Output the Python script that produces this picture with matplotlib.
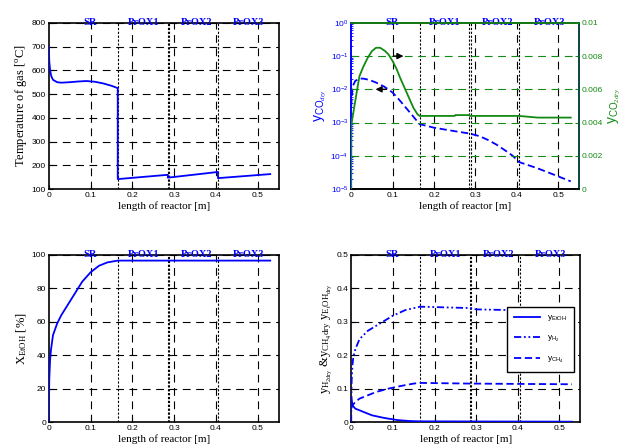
import matplotlib
matplotlib.use("Agg")
import matplotlib.pyplot as plt
import matplotlib.transforms as mtransforms

# --- data ---
zones = ["SR", "PrOX1", "PrOX2", "PrOX3"]
zone_pos = [0.098, 0.226, 0.354, 0.478]
bounds = [0.165, 0.285, 0.288, 0.405]

T_x = [0, 0.001, 0.003, 0.006, 0.01, 0.02, 0.03, 0.05, 0.07, 0.09, 0.11, 0.13, 0.15, 0.165,
       0.165, 0.285, 0.285, 0.405, 0.405, 0.53]
T_y = [700, 640, 600, 575, 560, 550, 548, 550, 553, 555, 552, 545, 535, 525,
       142, 160, 148, 172, 146, 163]

co_x = [0, 0.003, 0.01, 0.02, 0.03, 0.045, 0.06, 0.08, 0.1, 0.115, 0.13, 0.145, 0.165,
        0.2, 0.25, 0.285, 0.31, 0.33, 0.35, 0.37, 0.39, 0.405, 0.45, 0.5, 0.53]
co_y = [3e-3, 1.2e-2, 1.8e-2, 2.1e-2, 2.1e-2, 1.9e-2, 1.6e-2, 1.2e-2, 8e-3, 5e-3, 3e-3, 1.8e-3, 9e-4,
        7e-4, 5.5e-4, 4.7e-4, 3.9e-4, 3.0e-4, 2.2e-4, 1.5e-4, 1.0e-4, 6.5e-5, 4.2e-5, 2.4e-5, 1.7e-5]

co2_x = [0, 0.0005, 0.002, 0.0065, 0.0145, 0.02, 0.03, 0.04, 0.05, 0.06, 0.07, 0.082, 0.09, 0.1,
         0.11, 0.118, 0.134, 0.15, 0.16, 0.165, 0.2, 0.25, 0.251, 0.285, 0.286, 0.35, 0.405, 0.45, 0.53]
co2_y = [0, 0.0039, 0.0041, 0.0048, 0.006, 0.0068, 0.0074, 0.0079, 0.0083, 0.0085, 0.0085, 0.0083,
         0.0081, 0.0077, 0.0072, 0.0067, 0.0058, 0.0049, 0.0045, 0.0044, 0.0044, 0.0044, 0.00445,
         0.00445, 0.0044, 0.0044, 0.0044, 0.0043, 0.0043]

X_x = [0, 0.001, 0.003, 0.005, 0.01, 0.02, 0.03, 0.04, 0.05, 0.06, 0.07, 0.08, 0.1, 0.12, 0.14, 0.165, 0.53]
X_y = [0, 25, 37, 43, 52, 59, 64, 68, 72, 76, 80, 84, 89.6, 93.5, 95.5, 96.6, 96.6]

h2_x = [0, 0.001, 0.003, 0.005, 0.01, 0.02, 0.04, 0.06, 0.08, 0.1, 0.13, 0.165, 0.285, 0.3, 0.38, 0.405, 0.53]
h2_y = [0, 0.12, 0.17, 0.193, 0.218, 0.248, 0.273, 0.288, 0.303, 0.318, 0.335, 0.345, 0.341, 0.337, 0.335, 0.33, 0.328]

ch4_x = [0, 0.003, 0.01, 0.02, 0.04, 0.06, 0.09, 0.12, 0.15, 0.165, 0.285, 0.4, 0.53]
ch4_y = [0.04, 0.05, 0.06, 0.07, 0.08, 0.09, 0.1, 0.108, 0.115, 0.117, 0.115, 0.114, 0.113]

et_x = [0, 0.003, 0.01, 0.03, 0.05, 0.08, 0.11, 0.14, 0.165, 0.53]
et_y = [0.075, 0.05, 0.04, 0.03, 0.02, 0.012, 0.006, 0.003, 0.002, 0.001]

BLUE = "#0000ff"
GREEN = "#138a13"
serif = "Liberation Serif"
tick_fs = 6

plt.rcParams["font.family"] = "Liberation Sans"
plt.rcParams["mathtext.fontset"] = "custom"
plt.rcParams["mathtext.rm"] = "Liberation Serif"
plt.rcParams["mathtext.it"] = "Liberation Serif:italic"
plt.rcParams["mathtext.sf"] = "Liberation Sans"

fig = plt.figure(figsize=(6.26, 4.48), dpi=100)
ax_T = fig.add_axes([0.078, 0.578, 0.367, 0.371])
ax_co = fig.add_axes([0.561, 0.578, 0.364, 0.371])
ax_X = fig.add_axes([0.078, 0.058, 0.367, 0.373])
ax_y = fig.add_axes([0.561, 0.058, 0.366, 0.373])

dash = (0, (7, 5))


def decorate(ax, hgrid=True):
    ax.set_xlim(0, 0.55)
    ax.set_xticks([0, 0.1, 0.2, 0.3, 0.4, 0.5])
    ax.set_xticklabels(["0", "0.1", "0.2", "0.3", "0.4", "0.5"])
    ax.tick_params(labelsize=tick_fs, direction="in", length=3, pad=2)
    for xv in [0.1, 0.2, 0.3, 0.4, 0.5]:
        ax.axvline(xv, color="k", lw=0.8, ls=dash, zorder=1)
    if hgrid:
        ax.yaxis.grid(True, color="k", lw=0.8, ls=dash)
    for b in bounds:
        ax.axvline(b, color="k", lw=0.8, ls=(0, (2, 1.5)), zorder=1)
    tr = mtransforms.blended_transform_factory(ax.transData, ax.transAxes)
    for name, p in zip(zones, zone_pos):
        ax.text(p, 0.975, name, transform=tr, ha="center", va="bottom", color=BLUE,
                fontsize=7.5, fontweight="bold", family=serif, zorder=5)
    ax.set_xlabel("length of reactor [m]", family=serif, fontsize=8, labelpad=2)
    for s in ax.spines.values():
        s.set_linewidth(1.2)


# top left: gas temperature
ax_T.plot(T_x, T_y, color=BLUE, lw=1.3, zorder=3)
ax_T.set_ylim(100, 800)
ax_T.set_yticks(range(100, 801, 100))
decorate(ax_T)
ax_T.set_ylabel(r"Temperature of gas [$^{\rm o}$C]", family=serif, fontsize=9, labelpad=2)

# top right: CO (log, left) and CO2 (right)
ax_co.plot(co_x, co_y, color=BLUE, lw=1.3, ls=(0, (4, 2)), zorder=3)
ax_co.set_yscale("log")
ax_co.set_ylim(1e-5, 1)
decorate(ax_co, hgrid=False)
ax_co.tick_params(axis="y", which="both", colors=BLUE, labelcolor=BLUE)
ax_co.tick_params(axis="y", which="minor", direction="in", length=1.5)
ax_co.spines["left"].set_color(BLUE)
ax_co.set_ylabel(r"y$_{\mathsf{CO}_{dry}}$", color=BLUE, fontsize=10, labelpad=1)

ax_c2 = ax_co.twinx()
ax_c2.set_position(ax_co.get_position())
ax_c2.plot(co2_x, co2_y, color=GREEN, lw=1.3, zorder=3)
ax_c2.set_ylim(0, 0.01)
ax_c2.set_xlim(0, 0.55)
ax_c2.set_yticks([0, 0.002, 0.004, 0.006, 0.008, 0.01])
ax_c2.set_yticklabels(["0", "0.002", "0.004", "0.006", "0.008", "0.01"])
ax_c2.tick_params(axis="y", colors=GREEN, labelcolor=GREEN, labelsize=tick_fs,
                  direction="in", length=3, pad=2)
for yv in [0.002, 0.004, 0.006, 0.008]:
    ax_c2.axhline(yv, color=GREEN, lw=0.8, ls=dash, zorder=1)
ax_c2.spines["right"].set_color("#0b4f4f")
ax_c2.spines["top"].set_color(GREEN)
ax_c2.spines["left"].set_color(BLUE)
for s in ax_c2.spines.values():
    s.set_linewidth(1.2)
ax_c2.set_ylabel(r"y$_{\mathsf{CO}_{2dry}}$", color=GREEN, fontsize=10, labelpad=3)
arrow = dict(arrowstyle="-|>", color="k", lw=1.0, mutation_scale=9)
ax_c2.annotate("", xy=(0.133, 0.008), xytext=(0.095, 0.008), arrowprops=arrow)
ax_c2.annotate("", xy=(0.052, 0.006), xytext=(0.092, 0.006), arrowprops=arrow)

# bottom left: EtOH conversion
ax_X.plot(X_x, X_y, color=BLUE, lw=1.3, zorder=3)
ax_X.set_ylim(0, 100)
ax_X.set_yticks(range(0, 101, 20))
decorate(ax_X)
ax_X.set_ylabel(r"X$_{\rm EtOH}$ [%]", family=serif, fontsize=9, labelpad=2)

# bottom right: dry mole fractions
ax_y.plot(et_x, et_y, color=BLUE, lw=1.3, label=r"y$_{\mathsf{EtOH}}$", zorder=3)
ax_y.plot(h2_x, h2_y, color=BLUE, lw=1.3, ls=(0, (4, 1.5, 1, 1.5, 1, 1.5)),
          label=r"y$_{\mathsf{H_2}}$", zorder=3)
ax_y.plot(ch4_x, ch4_y, color=BLUE, lw=1.3, ls=(0, (4, 2)), label=r"y$_{\mathsf{CH_4}}$", zorder=3)
ax_y.set_ylim(0, 0.5)
ax_y.set_yticks([0, 0.1, 0.2, 0.3, 0.4, 0.5])
ax_y.set_yticklabels(["0", "0.1", "0.2", "0.3", "0.4", "0.5"])
decorate(ax_y)
ax_y.set_ylabel(r"y$_{\rm H_{2dry}}$ &y$_{\rm CH_4dry}$ y$_{\rm E_tOH_{dry}}$",
                family=serif, fontsize=9, labelpad=2)
leg = ax_y.legend(loc="center right", bbox_to_anchor=(0.99, 0.495), fontsize=6,
                  frameon=True, fancybox=False, edgecolor="k", framealpha=1,
                  handlelength=3.2, labelspacing=1.3, borderpad=0.8)
leg.get_frame().set_linewidth(1.0)

fig.savefig("out.png", dpi=100)
